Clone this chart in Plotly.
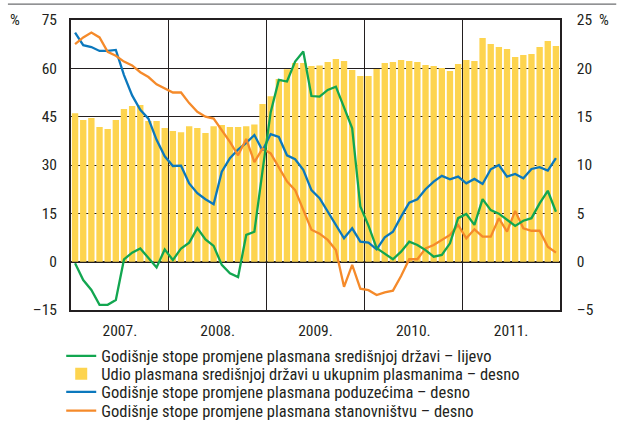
import plotly.graph_objects as go

# Monthly observations, January 2007 - December 2011
years = ["2007.", "2008.", "2009.", "2010.", "2011."]
months = list(range(60))

# Share of placements to central government in total placements (right axis, %)
udio_drzava = [
    15.35, 14.66, 14.87, 13.93, 13.73, 14.66, 15.8, 16.1, 16.2, 14.55, 14.55, 13.83,
    13.52, 13.4, 14.0, 13.83, 13.3, 14.0, 14.14, 13.93, 13.93, 14.0, 14.2, 16.3,
    17.1, 18.9, 19.9, 20.56, 20.56, 20.25, 20.3, 20.66, 20.97, 20.76, 19.83, 19.21,
    19.21, 19.93, 20.56, 20.66, 20.86, 20.76, 20.66, 20.35, 20.25, 20.04, 19.73, 20.45,
    20.86, 20.76, 23.14, 22.52, 22.21, 22.0, 21.17, 21.38, 21.48, 22.21, 22.83, 22.31,
]

# Annual growth of placements to central government (left axis, %)
stope_drzava = [
    -0.5, -5.7, -8.8, -13.4, -13.4, -11.9, 0.7, 2.8, 4.1, 1.0, -1.8, 3.8,
    0.5, 4.1, 5.9, 10.4, 6.9, 4.9, -1.0, -3.6, -4.8, 8.3, 9.3, 28.2,
    46.4, 56.4, 55.9, 62.1, 65.2, 51.4, 51.2, 53.3, 54.3, 47.9, 41.4, 17.1,
    11.2, 4.2, 2.6, 0.75, 3.1, 6.2, 5.2, 3.6, 1.55, 2.1, 5.7, 13.5,
    14.8, 11.4, 19.4, 16.0, 14.9, 12.9, 11.1, 12.7, 13.5, 18.1, 22.0, 15.5,
]

# Annual growth of placements to enterprises (right axis, %)
stope_poduzeca = [
    23.7, 22.4, 22.2, 21.8, 21.8, 21.9, 19.3, 17.2, 15.7, 14.8, 12.6, 10.9,
    9.9, 9.93, 8.1, 7.08, 6.46, 5.94, 9.3, 10.7, 11.6, 12.3, 13.1, 11.5,
    13.2, 12.9, 11.0, 10.6, 9.5, 7.4, 6.56, 5.2, 3.8, 2.42, 3.45, 2.07,
    1.97, 1.28, 2.52, 3.1, 4.66, 6.1, 6.46, 7.49, 8.28, 8.87, 8.52, 8.8,
    8.11, 8.56, 8.04, 9.56, 10.0, 8.8, 9.07, 8.63, 9.59, 9.77, 9.42, 10.7,
]

# Annual growth of placements to households (right axis, %)
stope_stanovnistvo = [
    22.5, 23.2, 23.7, 23.2, 21.7, 21.3, 20.7, 20.3, 19.6, 19.1, 18.35, 17.9,
    17.5, 17.5, 16.4, 15.5, 15.0, 14.8, 13.6, 12.4, 11.0, 12.7, 10.3, 11.7,
    11.2, 9.8, 8.3, 7.4, 5.35, 3.3, 2.9, 2.25, 1.2, -2.6, -0.34, -2.8,
    -2.95, -3.45, -3.17, -3.0, -1.48, 0.25, 0.25, 1.38, 1.73, 2.24, 2.76, 3.8,
    2.42, 3.35, 2.59, 2.59, 4.49, 3.1, 5.25, 3.45, 3.2, 3.2, 1.55, 0.93,
]

left_ticks = [-15, 0, 15, 30, 45, 60, 75]
left_text = ["–15", "0", "15", "30", "45", "60", "75"]
right_ticks = [-5, 0, 5, 10, 15, 20, 25]
right_text = ["–5", "0", "5", "10", "15", "20", "25"]

FONT = "Roboto Condensed, Liberation Sans Narrow, Arial Narrow, Liberation Sans, sans-serif"
TXT = "#231f20"
GREEN = "#12a650"
YELLOW = "#fdd44f"
BLUE = "#0b78bd"
ORANGE = "#f58a2a"
legend_font = dict(family=FONT, size=16.5, color=TXT)
tick_font = dict(family=FONT, size=15.5, color=TXT)

fig = go.Figure()
# bars and the two right-axis lines live on the primary (right) axis
fig.add_trace(go.Bar(
    x=months, y=udio_drzava, yaxis="y", marker=dict(color=YELLOW, line=dict(width=0)),
    name="Udio plasmana središnjoj državi u ukupnim plasmanima – desno", legend="legend2",
))
fig.add_trace(go.Scatter(
    x=months, y=stope_poduzeca, mode="lines", yaxis="y",
    line=dict(color=BLUE, width=2.3),
    name="Godišnje stope promjene plasmana poduzećima – desno", legend="legend3",
))
fig.add_trace(go.Scatter(
    x=months, y=stope_stanovnistvo, mode="lines", yaxis="y",
    line=dict(color=ORANGE, width=2.3),
    name="Godišnje stope promjene plasmana stanovništvu – desno", legend="legend4",
))
# green line on the overlaid left axis
fig.add_trace(go.Scatter(
    x=months, y=stope_drzava, mode="lines", yaxis="y2",
    line=dict(color=GREEN, width=2.3),
    name="Godišnje stope promjene plasmana središnjoj državi – lijevo", legend="legend",
))

def legend_at(ypos):
    return dict(x=-0.02, y=ypos, xanchor="left", yanchor="middle",
                font=legend_font, bgcolor="rgba(0,0,0,0)", borderwidth=0, itemwidth=30)

fig.update_layout(
    width=623, height=428,
    margin=dict(l=71, r=63, t=20, b=118, autoexpand=False),
    paper_bgcolor="white", plot_bgcolor="white",
    font=dict(family=FONT, size=15.5, color=TXT),
    bargap=0.22,
    showlegend=True,
    legend=legend_at(-0.159),
    legend2=legend_at(-0.221),
    legend3=legend_at(-0.283),
    legend4=legend_at(-0.348),
    xaxis=dict(
        range=[-0.5, 59.5], showline=True, linecolor="#231f20", linewidth=1.5, mirror=True,
        tickmode="array", tickvals=[5.5, 17.5, 29.5, 41.5, 53.5], ticktext=years,
        ticks="", showgrid=False, zeroline=False, ticklabelstandoff=6, tickfont=tick_font,
        minor=dict(tickmode="array", tickvals=[11.5, 23.5, 35.5, 47.5],
                   showgrid=True, gridcolor="#231f20", gridwidth=1.2, ticks=""),
    ),
    yaxis=dict(
        range=[-5, 25], side="right", tickmode="array", tickvals=right_ticks, ticktext=right_text,
        showgrid=True, gridcolor="#231f20", gridwidth=1.2,
        zeroline=True, zerolinecolor="#231f20", zerolinewidth=2.2,
        showline=True, linecolor="#231f20", linewidth=1.5, mirror=True,
        ticks="", ticklabelstandoff=12, tickfont=tick_font,
    ),
    yaxis2=dict(
        range=[-15, 75], overlaying="y", side="left",
        tickmode="array", tickvals=left_ticks, ticktext=left_text,
        showgrid=False, zeroline=False, ticks="", ticklabelstandoff=13,
        showline=False, tickfont=tick_font,
    ),
    shapes=[
        dict(type="line", xref="paper", yref="paper", x0=-0.129, x1=1.115, y0=1.055, y1=1.055,
             line=dict(color="#6d6e71", width=1.2)),
    ],
    annotations=[
        dict(text="%", xref="paper", yref="paper", x=-0.115, y=1.0, xanchor="center",
             yanchor="middle", showarrow=False, font=tick_font),
        dict(text="%", xref="paper", yref="paper", x=1.09, y=1.0, xanchor="center",
             yanchor="middle", showarrow=False, font=tick_font),
    ],
)

fig.write_html("out.html")
